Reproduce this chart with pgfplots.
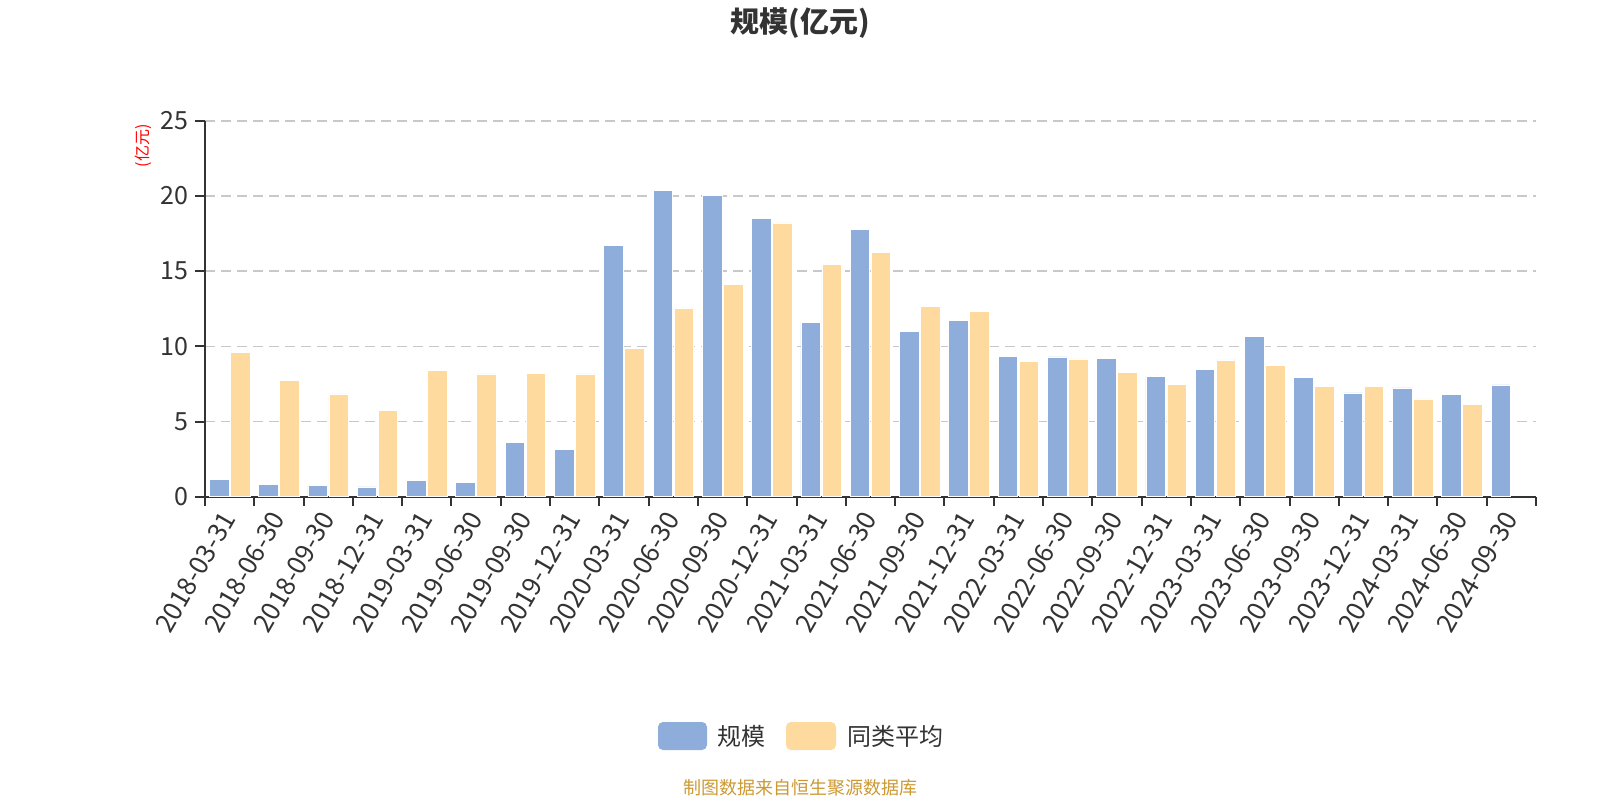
\documentclass[border=0pt]{standalone}
\usepackage{fontspec}
\setmainfont{Noto Sans CJK SC}
\usepackage{pgfplots}
\usepackage{pgfplotstable}
\pgfplotsset{compat=1.18}
\definecolor{cblue}{RGB}{142,173,219}
\definecolor{corange}{RGB}{255,218,158}
\definecolor{ctext}{RGB}{51,51,51}
\definecolor{cgrid}{RGB}{200,200,200}
\definecolor{csrc}{RGB}{204,153,51}
\pgfplotstableread{
x a b
0 1.16 9.62
1 0.84 7.74
2 0.73 6.83
3 0.65 5.72
4 1.11 8.42
5 0.93 8.16
6 3.61 8.18
7 3.15 8.16
8 16.71 9.86
9 20.37 12.55
10 20.06 14.14
11 18.53 18.20
12 11.59 15.47
13 17.76 16.25
14 10.97 12.64
15 11.73 12.33
16 9.33 9.00
17 9.29 9.16
18 9.20 8.29
19 8.02 7.49
20 8.47 9.09
21 10.64 8.71
22 7.94 7.36
23 6.90 7.36
24 7.23 6.50
25 6.81 6.14
26 7.43 nan
}\data
\begin{document}
\begin{tikzpicture}
\begin{axis}[
  at={(102.5pt,151.65pt)}, anchor=south west,
  scale only axis, width=665.5pt, height=188pt,
  xmin=-0.5, xmax=26.5, ymin=0, ymax=25,
  ybar=0.7pt, bar width=9.8pt,
  axis lines*=left,
  axis line style={color=ctext, line width=1pt},
  xtick={0,...,26},
  xticklabels={2018-03-31,2018-06-30,2018-09-30,2018-12-31,2019-03-31,2019-06-30,2019-09-30,2019-12-31,2020-03-31,2020-06-30,2020-09-30,2020-12-31,2021-03-31,2021-06-30,2021-09-30,2021-12-31,2022-03-31,2022-06-30,2022-09-30,2022-12-31,2023-03-31,2023-06-30,2023-09-30,2023-12-31,2024-03-31,2024-06-30,2024-09-30},
  major x tick style={draw=none},
  minor xtick={-0.5,0.5,...,26.5},
  minor x tick style={color=ctext, line width=1pt},
  major y tick style={color=ctext, line width=1pt},
  tick align=outside,
  major tick length=5pt, minor tick length=4.5pt,
  ytick={0,5,...,25},
  ymajorgrids,
  grid style={cgrid, dash pattern=on 5pt off 3pt, line width=0.8pt},
  x tick label style={rotate=60, anchor=east, yshift=-1.5pt, font=\fontsize{13}{13}\selectfont, text=ctext},
  y tick label style={font=\fontsize{12.5}{12.5}\selectfont, text=ctext},
  /pgf/number format/assume math mode=true,
]
\addplot[fill=cblue, draw=white, line width=0.4pt] table[x=x,y=a]{\data};
\addplot[fill=corange, draw=white, line width=0.4pt] table[x=x,y=b]{\data};
\end{axis}
\node[font=\bfseries\fontsize{14.5}{14.5}\selectfont, text=ctext] at (400pt,388.5pt) {规模(亿元)};
\node[rotate=90, text=red, font=\fontsize{8}{8}\selectfont] at (71.75pt,327.2pt) {(亿元)};
\fill[cblue, rounded corners=2.5pt] (329pt,25pt) rectangle (353.5pt,39pt);
\node[anchor=west, inner sep=0pt, text=ctext, font=\fontsize{12}{12}\selectfont] at (358.5pt,32pt) {规模};
\fill[corange, rounded corners=2.5pt] (393pt,25pt) rectangle (418pt,39pt);
\node[anchor=west, inner sep=0pt, text=ctext, font=\fontsize{12}{12}\selectfont] at (423.5pt,32pt) {同类平均};
\node[text=csrc, font=\fontsize{9}{9}\selectfont] at (400pt,6pt) {制图数据来自恒生聚源数据库};
\pgfresetboundingbox
\path[use as bounding box] (0,0) rectangle (800pt,400pt);
\end{tikzpicture}
\end{document}
